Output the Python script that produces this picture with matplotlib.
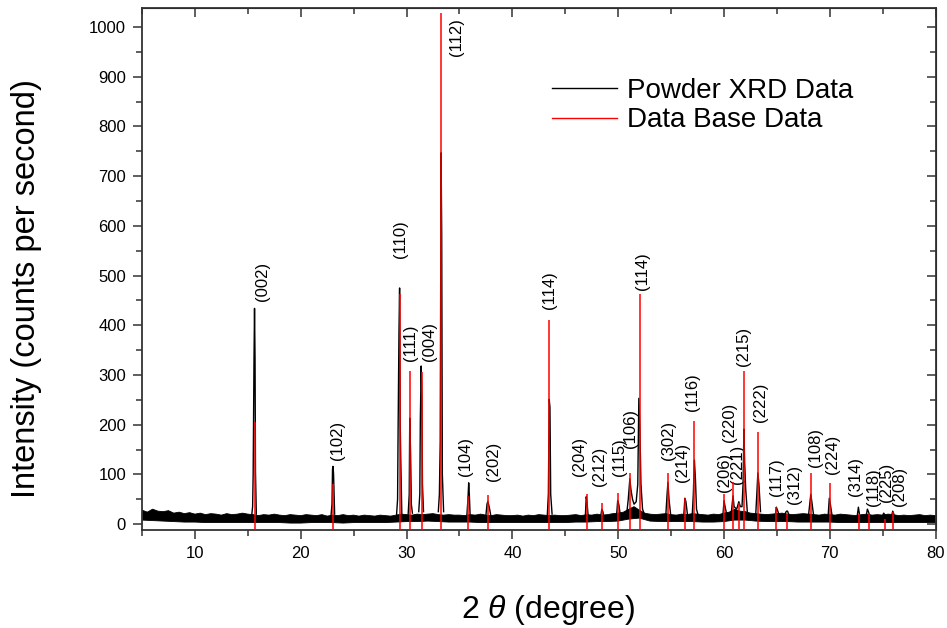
import numpy as np
import matplotlib
matplotlib.use("Agg")
import matplotlib.pyplot as plt
from matplotlib.ticker import MultipleLocator
from matplotlib.lines import Line2D

plt.rcParams['font.family'] = ['Liberation Sans', 'DejaVu Sans']
plt.rcParams['mathtext.fontset'] = 'custom'
plt.rcParams['mathtext.rm'] = 'Liberation Sans'
plt.rcParams['mathtext.it'] = 'Liberation Sans:italic'

# ---------------- data ----------------
# Data base (reference) stick pattern
ref_pos = [15.63, 23.06, 29.36, 30.36, 31.42, 33.30, 35.78, 37.70, 43.50, 47.03,
           48.44, 50.00, 51.13, 52.05, 54.74, 56.36, 57.20, 60.02, 60.86, 61.38,
           61.90, 63.24, 64.96, 65.92, 68.26, 70.06, 72.80, 73.70, 75.20, 76.00]
ref_int = [206, 81, 463, 308, 305, 1028, 57, 59, 410, 60,
           43, 62, 103, 463, 102, 52, 207, 60, 84, 42,
           308, 185, 34, 20, 103, 82, 20, 20, 10, 24]

# Miller indices and label anchor (x centre, y bottom)
hkl = ['(002)', '(102)', '(110)', '(111)', '(004)', '(112)', '(104)', '(202)', '(114)', '(204)',
       '(212)', '(115)', '(106)', '(114)', '(302)', '(214)', '(116)', '(206)', '(220)', '(221)',
       '(215)', '(222)', '(117)', '(312)', '(108)', '(224)', '(314)', '(118)', '(225)', '(208)']
lab_x = [16.35, 23.50, 29.45, 30.40, 32.15, 34.70, 35.60, 38.20, 43.47, 46.35,
         48.20, 50.15, 51.20, 52.30, 54.80, 56.10, 57.05, 60.00, 60.54, 61.26,
         61.80, 63.47, 64.95, 66.70, 68.64, 70.30, 72.43, 74.10, 75.36, 76.60]
lab_y = [449, 128, 536, 329, 329, 942, 96, 87, 433, 97,
         77, 97, 154, 470, 129, 84, 228, 65, 165, 80,
         318, 205, 57, 40, 115, 100, 57, 37, 44, 37]

# Measured powder pattern: peak profiles (2theta, counts)
peaks = [
    [(15.35, 15), (15.45, 35), (15.50, 100), (15.58, 330), (15.63, 434), (15.68, 330), (15.72, 105), (15.80, 20)],
    [(22.85, 15), (22.95, 40), (23.00, 110), (23.05, 116), (23.10, 100), (23.20, 20)],
    [(29.05, 18), (29.15, 50), (29.20, 192), (29.28, 383), (29.34, 475), (29.40, 200), (29.45, 130), (29.55, 20)],
    [(30.15, 20), (30.25, 60), (30.30, 213), (30.38, 140), (30.45, 40), (30.55, 22)],
    [(31.15, 25), (31.25, 60), (31.30, 210), (31.38, 318), (31.45, 248), (31.50, 80), (31.60, 25)],
    [(33.00, 25), (33.10, 60), (33.18, 165), (33.26, 747), (33.32, 584), (33.38, 100), (33.50, 25)],
    [(35.70, 18), (35.80, 50), (35.87, 83), (35.93, 60), (36.00, 20)],
    [(37.50, 18), (37.60, 40), (37.68, 46), (37.75, 40), (37.85, 30), (37.95, 18)],
    [(43.30, 18), (43.40, 60), (43.48, 251), (43.55, 235), (43.62, 60), (43.75, 20)],
    [(46.90, 18), (46.98, 55), (47.05, 45), (47.15, 18)],
    [(48.35, 15), (48.45, 30), (48.55, 25), (48.65, 15)],
    [(49.85, 18), (49.95, 47), (50.05, 40), (50.20, 18)],
    [(50.80, 20), (50.95, 50), (51.10, 91), (51.20, 70), (51.35, 50), (51.50, 40), (51.70, 45),
     (51.85, 80), (51.95, 253), (52.05, 191), (52.15, 80), (52.30, 30), (52.50, 18)],
    [(54.50, 18), (54.62, 60), (54.70, 84), (54.80, 50), (54.95, 20)],
    [(56.20, 18), (56.30, 52), (56.40, 45), (56.55, 18)],
    [(57.00, 20), (57.10, 60), (57.20, 129), (57.30, 90), (57.40, 30), (57.55, 18)],
    [(59.90, 18), (60.00, 47), (60.10, 35), (60.25, 20)],
    [(60.70, 25), (60.85, 57), (60.95, 35), (61.20, 30), (61.40, 45), (61.55, 35),
     (61.70, 35), (61.80, 80), (61.88, 191), (61.95, 124), (62.05, 70), (62.20, 25)],
    [(63.00, 20), (63.10, 60), (63.20, 103), (63.30, 80), (63.45, 25)],
    [(64.85, 18), (64.95, 34), (65.10, 25), (65.20, 18)],
    [(65.70, 18), (65.90, 26), (66.00, 26), (66.15, 18)],
    [(68.00, 20), (68.10, 40), (68.20, 60), (68.30, 45), (68.45, 20)],
    [(69.85, 20), (69.95, 52), (70.05, 40), (70.20, 18)],
    [(72.60, 18), (72.70, 34), (72.80, 20)],
    [(73.45, 18), (73.55, 30), (73.65, 25), (73.75, 18)],
    [(75.00, 18), (75.10, 22), (75.20, 18)],
    [(75.85, 18), (75.95, 26), (76.05, 20)],
]

# Background noise envelope (upper every 0.5 deg, lower every 1 deg, from 5 to 80)
noise_hi = [28, 24, 30, 26, 25, 27, 22, 24, 21, 23,
            20, 22, 19, 21, 20, 18, 21, 19, 20, 22,
            20, 19, 17, 19, 18, 20, 18, 17, 19, 18,
            17, 19, 18, 17, 19, 16, 18, 17, 19, 17,
            18, 16, 18, 17, 16, 18, 17, 16, 18, 20,
            19, 18, 20, 19, 20, 21, 19, 18, 19, 18,
            18, 17, 19, 18, 20, 18, 17, 19, 18, 17,
            17, 18, 16, 18, 17, 19, 18, 17, 18, 17,
            17, 18, 19, 17, 19, 18, 20, 18, 19, 21,
            22, 24, 30, 35, 28, 22, 20, 19, 20, 21,
            19, 18, 20, 19, 21, 20, 19, 18, 20, 19,
            22, 24, 30, 26, 25, 22, 21, 20, 19, 20,
            21, 22, 20, 19, 20, 21, 20, 19, 18, 20,
            19, 18, 20, 19, 18, 17, 19, 20, 18, 19,
            18, 20, 19, 17, 18, 17, 18, 19, 17, 18,
            17]
noise_lo = [8, 7, 6, 5, 4, 4, 3, 3, 3, 3,
            3, 3, 3, 3, 2, 2, 3, 3, 3, 2,
            3, 3, 3, 3, 4, 5, 5, 6, 5, 4,
            4, 4, 3, 3, 3, 3, 3, 3, 3, 3,
            3, 4, 4, 5, 5, 6, 10, 12, 6, 5,
            5, 5, 5, 4, 4, 5, 8, 8, 6, 5,
            5, 5, 4, 4, 4, 4, 3, 3, 3, 3,
            3, 3, 3, 3, 3, 3]

# ---------------- figure ----------------
fig = plt.figure(figsize=(9.47, 6.28), dpi=100)
ax = fig.add_axes([0.150, 0.156, 0.838, 0.831])
xmin, xmax, ymin, ymax = 5, 80, -12, 1038

# noise band
xh = np.linspace(5, 80, len(noise_hi))
xl = np.linspace(5, 80, len(noise_lo))
ax.fill(np.concatenate([xh, xl[::-1]]), np.concatenate([noise_hi, noise_lo[::-1]]),
        color='black', lw=0.6, zorder=2)
# peaks
for pk in peaks:
    px, py = zip(*pk)
    ax.plot(px, py, color='black', lw=1.0, zorder=3)
# reference sticks
ax.vlines(ref_pos, ymin, ref_int, color='#ff0000', lw=1.1, zorder=4)

for t, x, y in zip(hkl, lab_x, lab_y):
    ax.text(x, y, t, rotation=90, ha='center', va='bottom', fontsize=12, color='black')

ax.set_xlim(xmin, xmax)
ax.set_ylim(ymin, ymax)
ax.xaxis.set_major_locator(MultipleLocator(10))
ax.xaxis.set_minor_locator(MultipleLocator(5))
ax.yaxis.set_major_locator(MultipleLocator(100))
ax.yaxis.set_minor_locator(MultipleLocator(50))
ax.set_xticks([10, 20, 30, 40, 50, 60, 70, 80])

spine_c = '#333333'
for s in ax.spines.values():
    s.set_color(spine_c)
    s.set_linewidth(1.3)
ax.tick_params(which='both', direction='out', colors=spine_c, labelcolor='black', width=1.1,
               labelsize=12, top=False, right=False, pad=5)
ax.tick_params(which='major', length=6.5)
ax.tick_params(which='minor', length=4)

# inward ticks on top and right
axt = ax.secondary_xaxis('top')
axt.xaxis.set_major_locator(MultipleLocator(10))
axt.xaxis.set_minor_locator(MultipleLocator(5))
axt.tick_params(which='both', direction='in', colors=spine_c, width=1.1, labeltop=False)
axt.tick_params(which='major', length=6.5)
axt.tick_params(which='minor', length=4)
axr = ax.secondary_yaxis('right')
axr.yaxis.set_major_locator(MultipleLocator(100))
axr.yaxis.set_minor_locator(MultipleLocator(50))
axr.tick_params(which='both', direction='in', colors=spine_c, width=1.1, labelright=False)
axr.tick_params(which='major', length=6.5)
axr.tick_params(which='minor', length=4)

ax.set_ylabel('Intensity (counts per second)', fontsize=23.5)
ax.yaxis.set_label_coords(-0.126, 0.462)
ax.set_xlabel(r'2 $\mathit{\theta}$ (degree)', fontsize=23)
ax.xaxis.set_label_coords(0.511, -0.12)

handles = [Line2D([], [], color='black', lw=1.0), Line2D([], [], color='#ff0000', lw=1.0)]
ax.legend(handles, ['Powder XRD Data', 'Data Base Data'], loc='upper left',
          bbox_to_anchor=(0.516, 0.866), frameon=False, fontsize=20,
          handlelength=2.35, handletextpad=0.38, labelspacing=0.12,
          borderpad=0, borderaxespad=0)

fig.savefig('out.png', dpi=100)
